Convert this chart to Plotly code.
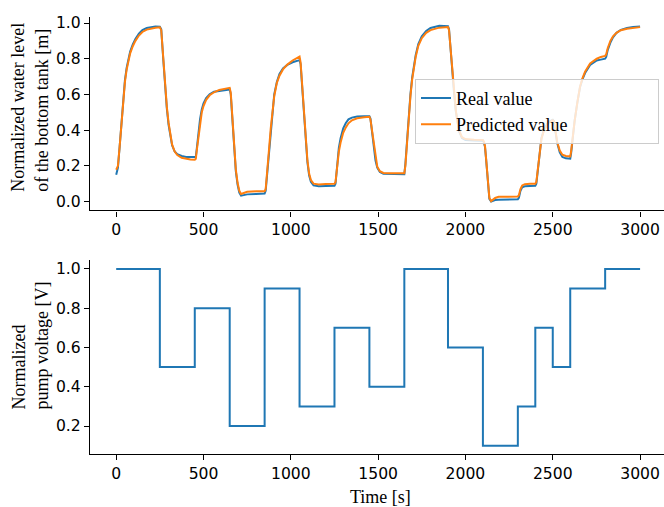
import plotly.graph_objects as go

# ---- water level of the bottom tank (sampled readings) ----
t_level = [
    0, 10, 20, 30, 40, 50, 60, 70, 80, 95, 110, 130, 150, 175, 200, 225, 250,
    258, 270, 280, 290, 300, 310, 320, 335, 350, 375, 400, 425, 450,
    456, 462, 470, 480, 490, 500, 515, 535, 560, 590, 620, 650,
    656, 665, 675, 685, 695, 705, 715, 730, 750, 800, 850,
    856, 865, 875, 885, 895, 905, 920, 935, 955, 980, 1010, 1040, 1050,
    1056, 1065, 1075, 1085, 1095, 1105, 1115, 1130, 1160, 1200, 1250,
    1256, 1265, 1275, 1285, 1300, 1315, 1330, 1350, 1380, 1420, 1450,
    1456, 1465, 1475, 1485, 1495, 1510, 1530, 1570, 1610, 1650,
    1656, 1665, 1675, 1685, 1695, 1705, 1715, 1730, 1750, 1775, 1800, 1850, 1900,
    1906, 1915, 1925, 1935, 1945, 1955, 1965, 1980, 2000, 2050, 2100,
    2106, 2112, 2118, 2128, 2137, 2147, 2157, 2170, 2190, 2240, 2300,
    2306, 2315, 2325, 2340, 2370, 2400,
    2406, 2415, 2425, 2435, 2450, 2475, 2500,
    2506, 2515, 2525, 2540, 2555, 2575, 2600,
    2605, 2612, 2625, 2640, 2656, 2670, 2685, 2714, 2752, 2775, 2800,
    2806, 2815, 2830, 2845, 2865, 2890, 2925, 2960, 3000,
]

level_real = [
    0.150, 0.19, 0.31, 0.45, 0.58, 0.68, 0.75, 0.80, 0.84, 0.88, 0.91, 0.94, 0.96, 0.972, 0.978, 0.980, 0.979,
    0.965, 0.79, 0.64, 0.52, 0.43, 0.36, 0.315, 0.28, 0.265, 0.255, 0.25, 0.25, 0.248,
    0.25, 0.30, 0.38, 0.46, 0.515, 0.55, 0.58, 0.60, 0.615, 0.62, 0.625, 0.628,
    0.60, 0.46, 0.30, 0.17, 0.095, 0.05, 0.033, 0.035, 0.04, 0.042, 0.045,
    0.06, 0.16, 0.30, 0.42, 0.52, 0.60, 0.67, 0.715, 0.745, 0.765, 0.78, 0.79, 0.792,
    0.77, 0.65, 0.48, 0.33, 0.22, 0.145, 0.11, 0.09, 0.085, 0.087, 0.088,
    0.10, 0.21, 0.30, 0.355, 0.41, 0.44, 0.46, 0.47, 0.476, 0.478, 0.478,
    0.465, 0.40, 0.30, 0.23, 0.19, 0.165, 0.155, 0.153, 0.152, 0.153,
    0.21, 0.34, 0.475, 0.60, 0.695, 0.765, 0.82, 0.882, 0.925, 0.955, 0.972, 0.984, 0.982,
    0.965, 0.845, 0.725, 0.605, 0.505, 0.435, 0.39, 0.355, 0.345, 0.342, 0.340,
    0.33, 0.305, 0.24, 0.11, 0.015, 0.0, 0.004, 0.008, 0.01, 0.011, 0.012,
    0.02, 0.06, 0.08, 0.085, 0.087, 0.088,
    0.10, 0.18, 0.275, 0.355, 0.405, 0.445, 0.458,
    0.45, 0.395, 0.33, 0.275, 0.25, 0.242, 0.24,
    0.27, 0.345, 0.45, 0.55, 0.64, 0.685, 0.72, 0.765, 0.79, 0.795, 0.80,
    0.81, 0.85, 0.89, 0.92, 0.945, 0.962, 0.972, 0.978, 0.98,
]

level_pred = [
    0.178, 0.20, 0.31, 0.44, 0.57, 0.67, 0.74, 0.79, 0.83, 0.87, 0.90, 0.93, 0.95, 0.963, 0.970, 0.974, 0.976,
    0.96, 0.80, 0.65, 0.53, 0.44, 0.37, 0.32, 0.28, 0.26, 0.245, 0.238, 0.235, 0.234,
    0.24, 0.29, 0.36, 0.44, 0.50, 0.535, 0.57, 0.595, 0.612, 0.625, 0.632, 0.637,
    0.61, 0.47, 0.31, 0.18, 0.105, 0.06, 0.042, 0.048, 0.055, 0.057, 0.057,
    0.07, 0.16, 0.29, 0.41, 0.50, 0.59, 0.665, 0.705, 0.74, 0.767, 0.79, 0.807, 0.812,
    0.78, 0.66, 0.49, 0.34, 0.23, 0.155, 0.12, 0.10, 0.096, 0.098, 0.099,
    0.11, 0.20, 0.28, 0.33, 0.385, 0.415, 0.438, 0.455, 0.466, 0.472, 0.475,
    0.46, 0.40, 0.31, 0.24, 0.195, 0.17, 0.16, 0.158, 0.158, 0.158,
    0.20, 0.33, 0.465, 0.59, 0.685, 0.755, 0.81, 0.872, 0.915, 0.945, 0.96, 0.974, 0.977,
    0.96, 0.85, 0.73, 0.61, 0.51, 0.44, 0.395, 0.36, 0.35, 0.346, 0.345,
    0.335, 0.31, 0.243, 0.113, 0.02, 0.002, 0.01, 0.02, 0.026, 0.027, 0.028,
    0.035, 0.07, 0.09, 0.097, 0.099, 0.100,
    0.11, 0.18, 0.27, 0.35, 0.40, 0.44, 0.455,
    0.45, 0.40, 0.335, 0.285, 0.262, 0.255, 0.253,
    0.28, 0.35, 0.45, 0.55, 0.643, 0.69, 0.727, 0.773, 0.80, 0.81, 0.816,
    0.825, 0.86, 0.90, 0.925, 0.945, 0.96, 0.968, 0.973, 0.977,
]

# ---- pump voltage steps (value holds until the next switching time) ----
t_pump = [0, 250, 450, 650, 850, 1050, 1250, 1450, 1650, 1900, 2100, 2300, 2400, 2500, 2600, 2800, 3000]
pump_voltage = [1.0, 0.5, 0.8, 0.2, 0.9, 0.3, 0.7, 0.4, 1.0, 0.6, 0.1, 0.3, 0.7, 0.5, 0.9, 1.0, 1.0]

x_ticks = [0, 500, 1000, 1500, 2000, 2500, 3000]
level_ticks = [0.0, 0.2, 0.4, 0.6, 0.8, 1.0]
pump_ticks = [0.2, 0.4, 0.6, 0.8, 1.0]

BLUE = "#1f77b4"
ORANGE = "#ff7f0e"
W, H = 664, 507
TICK_FONT = dict(family="DejaVu Sans", size=15.6, color="black")
LABEL_FONT = dict(family="Liberation Serif", size=18, color="black")

# trailing no-break spaces widen the legend frame to the right
LEGEND_PAD = "\u00a0" * 19

traces = [
    go.Scatter(x=t_level, y=level_real, mode="lines", name="Real value",
               line=dict(color=BLUE, width=2), xaxis="x", yaxis="y"),
    go.Scatter(x=t_level, y=level_pred, mode="lines", name="Predicted value" + LEGEND_PAD,
               line=dict(color=ORANGE, width=2), xaxis="x", yaxis="y"),
    go.Scatter(x=t_pump, y=pump_voltage, mode="lines", line_shape="hv",
               line=dict(color=BLUE, width=2), showlegend=False, xaxis="x2", yaxis="y2"),
]

x_dom = [90 / W, 1.0]
axis_common = dict(showline=True, linecolor="black", linewidth=1.2, mirror=False,
                   showgrid=False, zeroline=False, ticks="outside", ticklen=5,
                   tickwidth=1.2, tickcolor="black", tickfont=TICK_FONT)

annotations = [
    dict(text="Normalized water level<br>of the bottom tank [m]", textangle=-90,
         align="left", font=LABEL_FONT, showarrow=False,
         xref="paper", yref="paper", x=30 / W, xanchor="center",
         y=(H - 193) / H, yanchor="bottom"),
    dict(text="Normalized<br>pump voltage [V]", textangle=-90,
         align="left", font=LABEL_FONT, showarrow=False,
         xref="paper", yref="paper", x=30 / W, xanchor="center",
         y=(H - 411) / H, yanchor="bottom"),
    dict(text="Time [s]", font=LABEL_FONT, showarrow=False,
         xref="paper", yref="paper", x=380 / W, xanchor="center",
         y=(H - 497) / H, yanchor="middle"),
]

layout = go.Layout(
    width=W, height=H,
    margin=dict(l=0, r=0, t=0, b=0),
    paper_bgcolor="white", plot_bgcolor="white",
    xaxis=dict(domain=x_dom, range=[-150, 3137], tickvals=x_ticks, anchor="y", **axis_common),
    yaxis=dict(domain=[(H - 209.3) / H, (H - 14.7) / H], range=[-0.0502, 1.0357],
               tickvals=level_ticks, tickformat=".1f", anchor="x", **axis_common),
    xaxis2=dict(domain=x_dom, range=[-150, 3137], tickvals=x_ticks, anchor="y2", **axis_common),
    yaxis2=dict(domain=[(H - 453.7) / H, (H - 259.1) / H], range=[0.0579, 1.0452],
                tickvals=pump_ticks, tickformat=".1f", anchor="x2", **axis_common),
    legend=dict(x=415 / W, y=(H - 77) / H, xanchor="left", yanchor="top",
                bgcolor="rgba(255,255,255,0.8)", bordercolor="#cccccc", borderwidth=1,
                font=LABEL_FONT),
    showlegend=True,
    annotations=annotations,
)

fig = go.Figure(data=traces, layout=layout)
fig.write_html("out.html")
